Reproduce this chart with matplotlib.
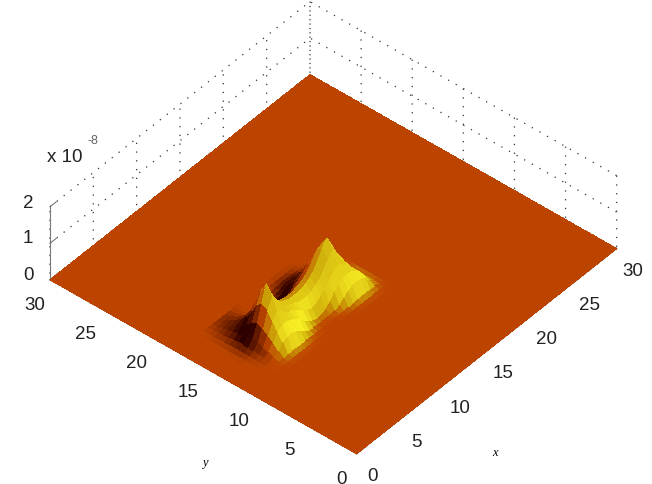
import matplotlib
matplotlib.use('Agg')
import matplotlib.pyplot as plt
from matplotlib.colors import LinearSegmentedColormap
import numpy as np

plt.rcParams['font.family'] = ['Liberation Sans', 'DejaVu Sans']

# Heights, in units of 1e-8, on a 0.5 grid around the bump
x_vals = np.arange(2.5, 15.6, 0.5)
y_vals = np.arange(10.5, 17.1, 0.5)
z_rows = [
    [0,0,0,0,0,0,0,0,0,0,0,0,0,0,0,0,0,0,0,0,0,0,0,0,0,0,0],
    [0,0,0,0,.02,.04,.05,.05,.04,.03,.01,0,0,0,0,0,0,0,0,.01,.03,.05,.06,.06,.05,.03,0],
    [0,0,.01,.05,.16,.3,.36,.36,.32,.24,.14,.06,.02,0,0,0,0,.03,.1,.2,.3,.36,.38,.36,.28,.12,.01],
    [0,0,.03,.12,.32,.52,.6,.6,.56,.5,.4,.26,.14,.06,.03,.04,.1,.22,.38,.5,.58,.6,.58,.5,.36,.16,.02],
    [0,.01,.05,.18,.42,.74,.9,.82,.68,.6,.54,.46,.36,.28,.24,.26,.36,.5,.62,.76,.86,.8,.66,.52,.34,.16,.02],
    [0,.02,.08,.24,.54,.96,1.22,1.02,.8,.68,.6,.54,.5,.48,.48,.52,.6,.7,.86,1.06,1.18,1.0,.78,.56,.36,.17,.03],
    [0,.02,.1,.28,.6,1.05,1.48,1.15,.88,.72,.62,.58,.56,.56,.58,.62,.7,.82,1.02,1.25,1.42,1.15,.85,.6,.38,.18,.04],
    [0,.02,.1,.26,.54,.92,1.2,.98,.76,.64,.56,.52,.5,.5,.54,.58,.66,.78,.96,1.14,1.18,.96,.7,.48,.28,.1,.01],
    [0,.02,.08,.2,.42,.68,.82,.7,.52,.38,.3,.26,.26,.3,.36,.44,.52,.62,.74,.82,.8,.62,.42,.26,.12,.03,0],
    [0,.01,.06,.15,.3,.44,.5,.42,.3,.18,.12,.08,.08,.12,.18,.26,.34,.42,.48,.5,.46,.32,.2,.1,.03,0,0],
    [0,.01,.05,.11,.21,.28,.3,.24,.16,.08,.04,.02,.02,.04,.08,.14,.2,.26,.28,.28,.22,.14,.06,.02,0,0,0],
    [0,.01,.03,.08,.14,.18,.18,.13,.08,.03,.01,0,0,.01,.03,.06,.1,.12,.13,.12,.08,.04,.01,0,0,0,0],
    [0,0,.02,.05,.08,.1,.09,.06,.03,.01,0,0,0,0,.01,.02,.03,.04,.04,.03,.02,.01,0,0,0,0,0],
    [0,0,.01,.02,.03,.03,.03,.02,.01,0,0,0,0,0,0,0,0,0,0,0,0,0,0,0,0,0,0],
]
x_ticks = [0, 5, 10, 15, 20, 25, 30]
y_ticks = [0, 5, 10, 15, 20, 25, 30]
z_ticks = [0, 1, 2]

# flat floor around the bump
xs = np.concatenate(([0, 2], x_vals, [16, 30]))
ys = np.concatenate(([0, 10], y_vals, [17.5, 30]))
Z = np.pad(np.array(z_rows, dtype=float), 2)
X, Y = np.meshgrid(xs, ys)

# colour from height and from slope, lit from the lower right of the view
dzdy, dzdx = np.gradient(Z, ys, xs)
lit = -0.65 * dzdx + 0.76 * dzdy
body = 0.26 * np.minimum(Z / 0.4, 1)
shade = 0.30 + body + np.where(lit > 0, lit * 0.8 * np.maximum(1 - 1.2 * Z, 0.1),
                               lit * 2.0 * np.maximum(1 - 0.9 * Z, 0.2))
cell = (shade[:-1, :-1] + shade[1:, :-1] + shade[:-1, 1:] + shade[1:, 1:]) / 4
# the big outer cells are plain floor
cell[[0, -1], :] = 0.30
cell[:, [0, -1]] = 0.30
cmap = LinearSegmentedColormap.from_list('bump', [
    (0.00, (0.18, 0.0, 0.0)),
    (0.30, (0.745, 0.27, 0.0)),
    (0.50, (0.80, 0.66, 0.03)),
    (0.72, (0.98, 0.95, 0.15)),
    (1.00, (1.0, 1.0, 1.0)),
])
colors = np.zeros(Z.shape + (4,))
colors[:-1, :-1] = cmap(np.clip(cell, 0, 1))

fig = plt.figure(figsize=(6.52, 4.85), dpi=100)
# axes larger than the figure so the box is not clipped; centre at the box centre
side = 800
ax = fig.add_axes([(322.5 - side / 2) / 652, (485 - 239.5 - side / 2) / 485, side / 652, side / 485],
                  projection='3d')
ax.set_proj_type('ortho')
ax.view_init(elev=42, azim=-139.7)
ax.set_box_aspect((30, 30, 7.33), zoom=1.155 * 485 / side)

ax.plot_surface(X, Y, Z, rstride=1, cstride=1, facecolors=colors, shade=False,
                linewidth=0, antialiased=False)

ax.set_xlim(0, 30)
ax.set_ylim(0, 30)
ax.set_zlim(0, 2)
ax.set_xticks(x_ticks)
ax.set_yticks(y_ticks)
ax.set_zticks(z_ticks)
ax.set_zticklabels([])
ax.tick_params(labelsize=13.5, labelcolor='#222222', color='#777777')
ax.tick_params(axis='x', pad=8)
ax.tick_params(axis='y', pad=10)

for axis in (ax.xaxis, ax.yaxis, ax.zaxis):
    axis.set_pane_color((1, 1, 1, 0))
    axis.pane.set_edgecolor((1, 1, 1, 0))
    axis.line.set_color('#777777')
    axis.line.set_linewidth(0.8)
    axis._axinfo['grid'].update(color='#333333', linestyle=(0, (1, 6)), linewidth=0.9)
    axis._axinfo['tick'].update(inward_factor=0.0, outward_factor=0.3)

# z tick labels sit above their ticks in the reference
for value, py in zip(z_ticks, [276, 239, 203]):
    fig.text(28 / 652, 1 - py / 485, str(value), fontsize=13.5, color='#222222', ha='center', va='center')

fig.text(47 / 652, 1 - 158 / 485, 'x 10', fontsize=13.5, color='#222222', va='center')
fig.text(88 / 652, 1 - 141 / 485, '-8', fontsize=9, color='#666666', va='center')
fig.text(205 / 652, 1 - 463 / 485, 'y', fontsize=9, family='Liberation Serif', style='italic',
         ha='center', va='center')
fig.text(495 / 652, 1 - 453 / 485, 'x', fontsize=9, family='Liberation Serif', style='italic',
         ha='center', va='center')

fig.savefig('out.png', dpi=100)
